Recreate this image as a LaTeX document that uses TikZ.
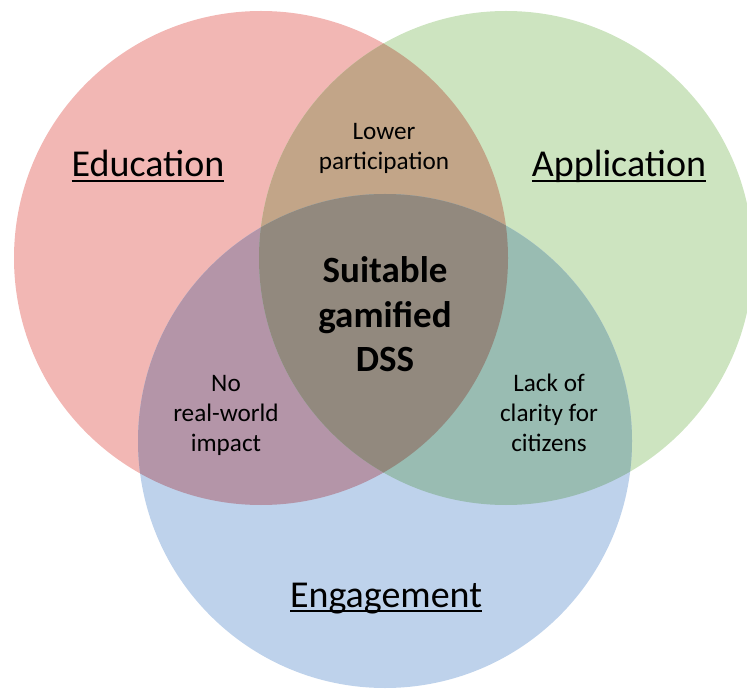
\documentclass[tikz,border=0pt]{standalone}
\usepackage{fontspec}
\setmainfont{Carlito}

\definecolor{eduFill}{RGB}{242,183,180}
\definecolor{appFill}{RGB}{205,228,192}
\definecolor{engFill}{RGB}{190,210,235}
\definecolor{eduAppFill}{RGB}{194,165,136}
\definecolor{eduEngFill}{RGB}{180,149,168}
\definecolor{appEngFill}{RGB}{153,188,178}
\definecolor{allFill}{RGB}{146,137,126}

% underline at a fixed depth below the baseline
\newcommand{\ulset}[1]{\setbox0\hbox{#1}\rlap{\rule[-4.8pt]{\wd0}{1.6pt}}\box0}
\newcommand{\rad}{247}

\begin{document}
\begin{tikzpicture}[x=1pt, y=1pt,
    setname/.style={anchor=base, inner sep=0pt,
      font=\fontsize{38}{45}\selectfont},
    overlap/.style={anchor=base, align=center, inner sep=0pt,
      font=\fontsize{25.2}{30}\selectfont},
    core/.style={anchor=base, align=center, inner sep=0pt,
      font=\fontsize{37}{44.5}\selectfont\bfseries}]

    \useasboundingbox (0,0) rectangle (747,689);

    % centres of the three sets
    \coordinate (cEdu) at (261,431);
    \coordinate (cApp) at (506,431);
    \coordinate (cEng) at (385,248);

    % the three circles
    \fill[eduFill] (cEdu) circle (\rad);
    \fill[appFill] (cApp) circle (\rad);
    \fill[engFill] (cEng) circle (\rad);

    % pairwise overlaps
    \begin{scope}
      \clip (cEdu) circle (\rad);
      \fill[eduAppFill] (cApp) circle (\rad);
      \fill[eduEngFill] (cEng) circle (\rad);
    \end{scope}
    \begin{scope}
      \clip (cApp) circle (\rad);
      \fill[appEngFill] (cEng) circle (\rad);
    \end{scope}

    % common part of all three
    \begin{scope}
      \clip (cEdu) circle (\rad);
      \clip (cApp) circle (\rad);
      \fill[allFill] (cEng) circle (\rad);
    \end{scope}

    % Place nodes (base = baseline of the last line)
    \node [setname] (edu) at (148,512) {\ulset{Education}};
    \node [setname] (app) at (619,512) {\ulset{Application}};
    \node [setname] (eng) at (386,82) {\ulset{Engagement}};

    \node [overlap] (lowPart) at (384,519) {Lower\\participation};
    \node [core] (suitDSS) at (385,317) {Suitable\\gamified\\DSS};
    \node [overlap] (noImpact) at (226,238) {No\\real-world\\impact};
    \node [overlap] (lackClarity) at (549,238) {Lack of\\clarity for\\citizens};

\end{tikzpicture}
\end{document}
